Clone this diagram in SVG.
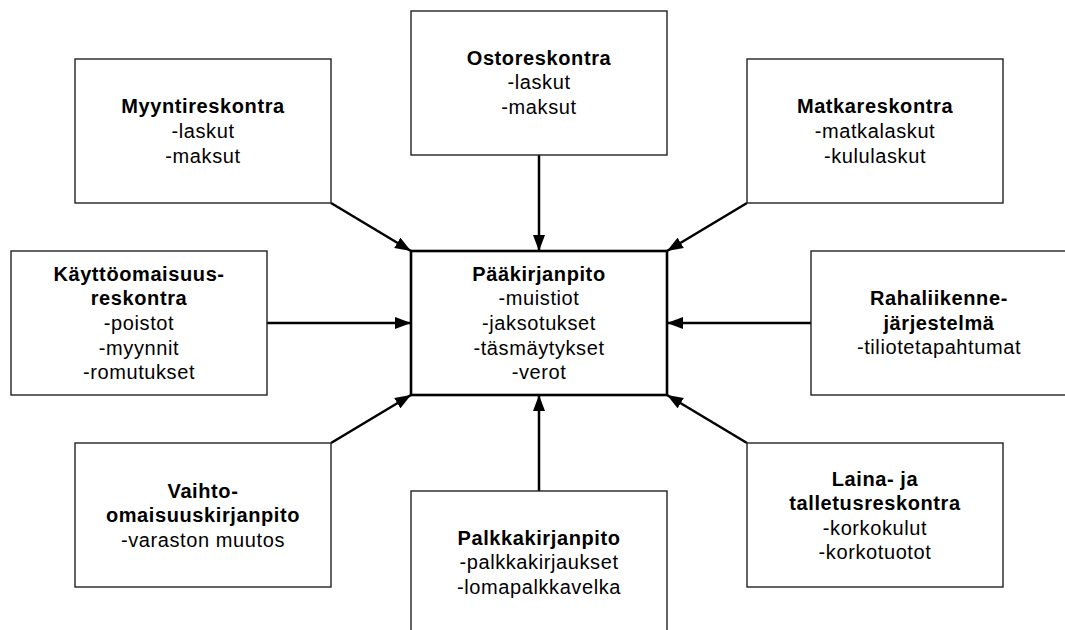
<svg xmlns="http://www.w3.org/2000/svg" width="1065" height="630" viewBox="0 0 1065 630">
<defs>
<marker id="ah" markerUnits="userSpaceOnUse" markerWidth="16" markerHeight="12" refX="16" refY="6" orient="auto">
<path d="M0,0 L16,6 L0,12 z" fill="#000"/>
</marker>
<style>
.box{fill:#fff;stroke:#222;stroke-width:1.4}
.main{fill:#fff;stroke:#000;stroke-width:2.6}
text{font-family:"Liberation Sans",Arial,sans-serif;font-size:20px;letter-spacing:0.6px;text-anchor:middle;fill:#000}
.b{font-weight:bold}
.c{stroke:#000;stroke-width:2.5;fill:none;marker-end:url(#ah)}
</style>
</defs>
<rect width="1065" height="630" fill="#fff"/>
<g id="connectors">
<line class="c" x1="331" y1="203" x2="411" y2="251"/>
<line class="c" x1="539" y1="155" x2="539" y2="251"/>
<line class="c" x1="747" y1="203" x2="667" y2="251"/>
<line class="c" x1="267" y1="323" x2="411" y2="323"/>
<line class="c" x1="811" y1="323" x2="667" y2="323"/>
<line class="c" x1="331" y1="443" x2="411" y2="395"/>
<line class="c" x1="539" y1="491" x2="539" y2="395"/>
<line class="c" x1="747" y1="443" x2="667" y2="395"/>
</g>
<g id="paakirjanpito">
<rect class="main" x="411" y="251" width="256" height="144"/>
<text class="b" x="539" y="280.7">Pääkirjanpito</text>
<text x="539" y="305.3">-muistiot</text>
<text x="539" y="330">-jaksotukset</text>
<text x="539" y="354.7">-täsmäytykset</text>
<text x="539" y="379.3">-verot</text>
</g>
<g id="ostoreskontra">
<rect class="box" x="411" y="11" width="256" height="144"/>
<text class="b" x="539" y="64.5">Ostoreskontra</text>
<text x="539" y="89.2">-laskut</text>
<text x="539" y="113.8">-maksut</text>
</g>
<g id="myyntireskontra">
<rect class="box" x="75" y="59" width="256" height="144"/>
<text class="b" x="203" y="113.3">Myyntireskontra</text>
<text x="203" y="138">-laskut</text>
<text x="203" y="162.6">-maksut</text>
</g>
<g id="matkareskontra">
<rect class="box" x="747" y="59" width="256" height="144"/>
<text class="b" x="875" y="113.3">Matkareskontra</text>
<text x="875" y="138">-matkalaskut</text>
<text x="875" y="162.6">-kululaskut</text>
</g>
<g id="kayttoomaisuusreskontra">
<rect class="box" x="11" y="251" width="256" height="144"/>
<text class="b" x="139" y="280.7">Käyttöomaisuus-</text>
<text class="b" x="139" y="305.3">reskontra</text>
<text x="139" y="330">-poistot</text>
<text x="139" y="354.7">-myynnit</text>
<text x="139" y="379.3">-romutukset</text>
</g>
<g id="rahaliikennejarjestelma">
<rect class="box" x="811" y="251" width="256" height="144"/>
<text class="b" x="939" y="305">Rahaliikenne-</text>
<text class="b" x="939" y="329.5">järjestelmä</text>
<text x="939" y="354.2">-tiliotetapahtumat</text>
</g>
<g id="vaihtoomaisuuskirjanpito">
<rect class="box" x="75" y="443" width="256" height="144"/>
<text class="b" x="203" y="497.8">Vaihto-</text>
<text class="b" x="203" y="522.3">omaisuuskirjanpito</text>
<text x="203" y="546.8">-varaston muutos</text>
</g>
<g id="palkkakirjanpito">
<rect class="box" x="411" y="491" width="256" height="144"/>
<text class="b" x="539" y="544.5">Palkkakirjanpito</text>
<text x="539" y="569.2">-palkkakirjaukset</text>
<text x="539" y="593.8">-lomapalkkavelka</text>
</g>
<g id="lainajatalletusreskontra">
<rect class="box" x="747" y="443" width="256" height="144"/>
<text class="b" x="875" y="485.5">Laina- ja</text>
<text class="b" x="875" y="510">talletusreskontra</text>
<text x="875" y="534.6">-korkokulut</text>
<text x="875" y="559.2">-korkotuotot</text>
</g>
</svg>
